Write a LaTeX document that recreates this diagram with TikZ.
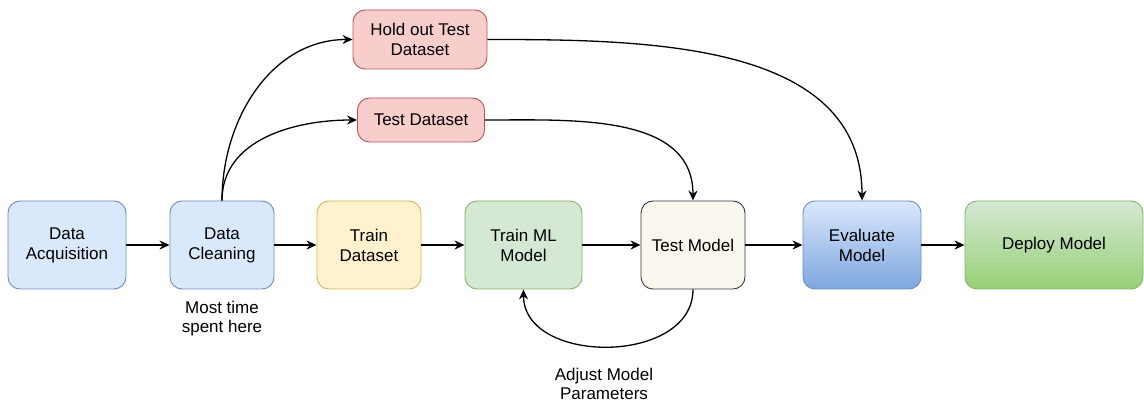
\documentclass[tikz,border=0pt]{standalone}
\usepackage{fontspec}
\setmainfont{Liberation Sans}
\usetikzlibrary{arrows.meta}

% box colours
\definecolor{blueFill}{HTML}{DAE8FC}
\definecolor{blueLine}{HTML}{6C8EBF}
\definecolor{blueDark}{HTML}{7EA6E0}
\definecolor{yellowFill}{HTML}{FFF2CC}
\definecolor{yellowLine}{HTML}{D6B656}
\definecolor{greenFill}{HTML}{D5E8D4}
\definecolor{greenLine}{HTML}{82B366}
\definecolor{greenDark}{HTML}{97D077}
\definecolor{redFill}{HTML}{F8CECC}
\definecolor{redLine}{HTML}{B85450}
\definecolor{creamFill}{HTML}{F9F7ED}
\definecolor{creamLine}{HTML}{36393D}

\tikzset{
  stage/.style={draw, rounded corners=12pt, line width=0.9pt, align=center,
    inner sep=0pt, minimum height=88pt, font=\fontsize{17}{20}\selectfont},
  holdbox/.style={stage, fill=redFill, draw=redLine, minimum height=59pt},
  testbox/.style={stage, fill=redFill, draw=redLine, minimum height=44pt},
  note/.style={align=center, inner sep=1pt, font=\fontsize{17}{19}\selectfont},
  flow/.style={line width=1.3pt, -{Stealth[length=10pt,width=9pt]}}
}

\begin{document}
\begin{tikzpicture}[x=1pt, y=-1pt]
    \useasboundingbox (0,0) rectangle (1144,403);

    % main pipeline
    \node[stage, fill=blueFill, draw=blueLine, minimum width=118pt] (acq) at (67,245) {Data\\Acquisition};
    \node[stage, fill=blueFill, draw=blueLine, minimum width=104pt] (clean) at (222,245) {Data\\Cleaning};
    \node[stage, fill=yellowFill, draw=yellowLine, minimum width=104pt] (train) at (369,245) {Train\\Dataset};
    \node[stage, fill=greenFill, draw=greenLine, minimum width=117pt] (trainml) at (523.5,245) {Train ML\\Model};
    \node[stage, fill=creamFill, draw=creamLine, minimum width=104pt] (test) at (693,245) {Test Model};
    \node[stage, top color=blueFill, bottom color=blueDark, draw=blueLine, minimum width=118pt] (eval) at (862,245) {Evaluate\\Model};
    \node[stage, top color=greenFill, bottom color=greenDark, draw=greenLine, minimum width=178pt] (deploy) at (1054,245) {Deploy Model};

    % split-off test sets
    \node[holdbox, minimum width=134pt] (holdout) at (420,39.5) {Hold out Test\\Dataset};
    \node[testbox, minimum width=127pt] (testds) at (421,120) {Test Dataset};

    % notes
    \node[note] (spent) at (222,319) {Most time\\spent here};
    \node[note] (adjust) at (604,384) {Adjust Model\\Parameters};

    \draw[flow] (acq) -- (clean);
    \draw[flow] (clean) -- (train);
    \draw[flow] (train) -- (trainml);
    \draw[flow] (trainml) -- (test);
    \draw[flow] (test) -- (eval);
    \draw[flow] (eval) -- (deploy);

    \draw[flow] (clean.north) to[out=90, in=180] (holdout.west);
    \draw[flow] (clean.north) to[out=90, in=180] (testds.west);
    \draw[flow] (testds.east) to[out=0, in=90] (test.north);
    \draw[flow] (holdout.east) to[out=0, in=90] (eval.north);

    % feedback loop
    \draw[flow] (test.south) to[out=-90, in=-90, looseness=1.15] (trainml.south);
\end{tikzpicture}
\end{document}
